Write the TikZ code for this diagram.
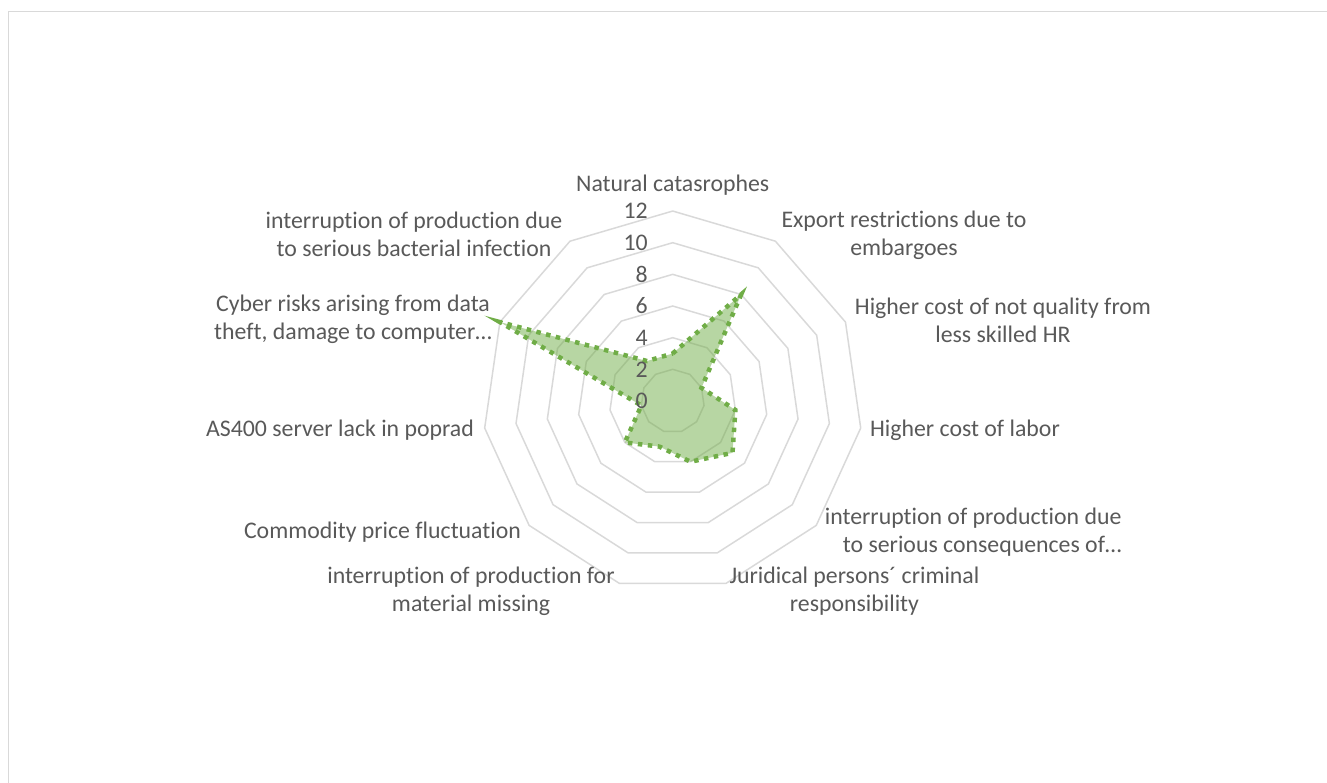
\documentclass[tikz,border=0pt]{standalone}
\usepackage{fontspec}
\setmainfont{Carlito}[Ligatures={NoCommon,NoContextual}]
\usetikzlibrary{positioning}
\definecolor{rk_green}{RGB}{112,173,71}
\definecolor{rk_grid}{RGB}{217,217,217}
\definecolor{rk_text}{RGB}{89,89,89}
\tikzset{
  ring/.style={draw=rk_grid, line width=1.5pt},
  series/.style={draw=rk_green, line width=4.5pt, dash pattern=on 4.5pt off 5.5pt},
  cat/.style={text=rk_text, align=center, inner sep=0pt, font=\fontsize{23.8}{28}\selectfont},
  tick/.style={text=rk_text, anchor=east, inner sep=0pt, font=\fontsize{23.8}{28}\selectfont},
}

\begin{document}
\begin{tikzpicture}[x=1pt, y=1pt]
    \def\u{15.83} % one step of the value axis
    \useasboundingbox (-672.7,-382) rectangle (654.3,401);
    % frame of the chart area
    \draw[rk_grid, line width=1.5pt] (-664,-420) -- (-664,389.7) -- (700,389.7);

    % the rings of the 11-gon
    \foreach \lev in {2,4,...,12} {
      \draw[ring] (90:{\lev*\u}) \foreach \k in {1,...,10} { -- ({90-\k*360/11}:{\lev*\u}) } -- cycle;
    }

    % the risk values
    \foreach \val [count=\k from 0] in {3,8,2,4,5,4,3,4,2,12,3} {
      \coordinate (p\k) at ({90-\k*360/11}:{\val*\u});
    }
    \fill[rk_green, fill opacity=0.5] (p0) \foreach \k in {1,...,10} { -- (p\k) } -- cycle;
    \draw[series] (p0) \foreach \k in {1,...,10} { -- (p\k) } -- cycle;

    % value axis labels
    \foreach \lev in {0,2,...,12} {
      \node[tick] (tick\lev) at (-24.7,\lev*\u) {\lev};
    }

    % category labels
    \node[cat] (natural) at (0,216) {Natural catasrophes};
    \node[cat] (export) at (231.3,166) {Export restrictions due to\\embargoes};
    \node[cat] (quality) at (330.3,80.2) {Higher cost of not quality from\\less skilled HR};
    \node[cat] (labor) at (292.3,-29) {Higher cost of labor};
    \node[cat, align=right, anchor=east] (consequence) at (449,-131.5) {interruption of production due\\to serious consequences of…};
    \node[cat] (juridical) at (181.8,-189.8) {Juridical persons´ criminal\\responsibility};
    \node[cat] (material) at (-201.7,-190.7) {interruption of production for\\material missing};
    \node[cat] (commodity) at (-290.2,-130.7) {Commodity price fluctuation};
    \node[cat] (server) at (-332.7,-29) {AS400 server lack in poprad};
    \node[cat] (cyber) at (-319.7,81.8) {Cyber risks arising from data\\theft, damage to computer…};
    \node[cat] (bacteria) at (-258.7,166.8) {interruption of production due\\to serious bacterial infection};
\end{tikzpicture}
\end{document}
